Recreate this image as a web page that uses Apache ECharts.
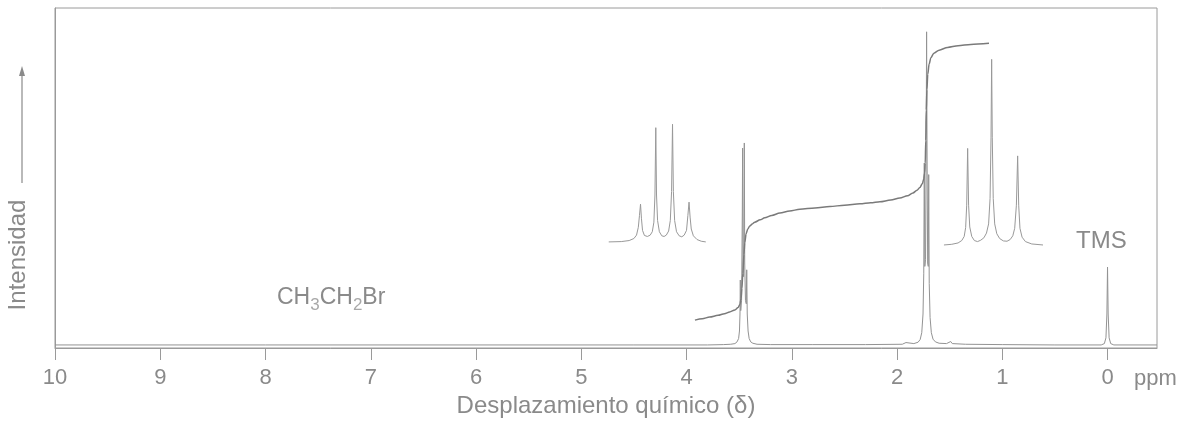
<!DOCTYPE html>
<html>
<head>
<meta charset="utf-8">
<script src="https://cdn.jsdelivr.net/npm/echarts@6/dist/echarts.min.js"></script>
<style>
html,body{margin:0;padding:0;background:#fff;}
#c{width:1187px;height:425px;}
</style>
</head>
<body>
<div id="c"></div>
<script>
// ---- data (ppm, intensity) ----
var tickValues = [10, 9, 8, 7, 6, 5, 4, 3, 2, 1, 0];
var xAxisTitle = 'Desplazamiento químico (δ)';
var yAxisTitle = 'Intensidad';
var unitLabel = 'ppm';
var compoundLabel = ['CH', '3', 'CH', '2', 'Br'];
var tmsLabel = 'TMS';

var spectrum = [
  [10, 0.9], [8, 0.9], [6, 0.9], [4.5, 0.9], [3.8, 0.9], [3.65, 1.0], [3.58, 1.1],
  [3.54, 1.3], [3.52, 1.8], [3.505, 2.8], [3.497, 5], [3.492, 10], [3.489, 20],
  [3.485, 11], [3.477, 14], [3.470, 40], [3.467, 58.8], [3.463, 22], [3.458, 21],
  [3.454, 40], [3.451, 60.3], [3.447, 25], [3.440, 14], [3.432, 13], [3.428, 23],
  [3.423, 10], [3.415, 5], [3.405, 2.8], [3.39, 1.8], [3.37, 1.4], [3.33, 1.1],
  [3.2, 1.0], [2.8, 1.0], [2.3, 1.0], [1.95, 1.1], [1.915, 1.6], [1.90, 1.2],
  [1.84, 1.3], [1.80, 1.7], [1.78, 2.5], [1.765, 4.5], [1.753, 10], [1.746, 22],
  [1.741, 54.4], [1.736, 24], [1.729, 26], [1.723, 60], [1.719, 93], [1.715, 60],
  [1.709, 25], [1.703, 24], [1.699, 51], [1.694, 19], [1.686, 9], [1.674, 4.5],
  [1.658, 2.6], [1.635, 1.8], [1.60, 1.4], [1.53, 1.3], [1.49, 1.9], [1.475, 1.3],
  [1.35, 1.1], [1.0, 1.0], [0.5, 0.9], [0.06, 0.9], [0.03, 1.3], [0.015, 3],
  [0.006, 10], [0.0, 23.8], [-0.006, 10], [-0.015, 3], [-0.03, 1.3], [-0.06, 0.9],
  [-0.47, 0.9]
];

var integral = [
  [3.920, 8.2], [3.85, 8.6], [3.78, 9.1], [3.70, 9.6], [3.64, 10.1], [3.59, 10.6],
  [3.54, 11.2], [3.51, 11.9], [3.493, 12.8], [3.482, 14.5], [3.474, 17.5],
  [3.465, 22], [3.455, 27.5], [3.446, 31], [3.434, 33.6], [3.418, 35.0],
  [3.399, 35.9], [3.375, 36.5], [3.352, 37.0], [3.30, 37.7], [3.257, 38.3],
  [3.19, 39.0], [3.113, 39.7], [3.02, 40.3], [2.923, 40.8], [2.78, 41.2],
  [2.638, 41.6], [2.50, 42.0], [2.352, 42.4], [2.25, 42.7], [2.163, 43.0],
  [2.06, 43.5], [1.973, 44.1], [1.90, 44.8], [1.849, 45.6], [1.810, 46.4],
  [1.783, 47.2], [1.760, 48.3], [1.747, 49.6], [1.738, 51.5], [1.732, 54.4],
  [1.727, 61], [1.722, 70], [1.716, 76], [1.708, 80.5], [1.695, 83.5], [1.678, 85.4],
  [1.650, 86.7], [1.600, 87.6], [1.520, 88.4], [1.420, 88.9], [1.300, 89.3],
  [1.126, 89.6]
];

var insetQuartet = [
  [4.739, 31.2], [4.62, 31.3], [4.545, 31.6], [4.500, 32.2], [4.475, 33.2],
  [4.458, 35.5], [4.447, 39], [4.437, 42.3], [4.428, 38], [4.418, 34.6],
  [4.400, 33.1], [4.372, 32.8], [4.345, 33.2], [4.325, 34.2], [4.310, 37],
  [4.300, 45], [4.292, 64.8], [4.285, 45], [4.275, 37.5], [4.258, 34.2],
  [4.235, 33.0], [4.213, 32.8], [4.192, 33.2], [4.170, 34.4], [4.154, 37.5],
  [4.142, 46], [4.133, 65.8], [4.125, 46], [4.113, 37.5], [4.095, 34.2],
  [4.070, 33.0], [4.045, 32.7], [4.022, 33.2], [4.000, 34.6], [3.987, 39],
  [3.976, 42.9], [3.966, 38.5], [3.955, 35.0], [3.935, 33.0], [3.900, 31.9],
  [3.860, 31.4], [3.817, 31.2]
];

var insetTriplet = [
  [1.554, 30.3], [1.48, 30.5], [1.42, 30.9], [1.385, 31.6], [1.362, 32.8],
  [1.348, 35.4], [1.338, 42], [1.329, 58.7], [1.320, 42], [1.309, 35.6],
  [1.290, 32.8], [1.265, 31.6], [1.235, 31.3], [1.205, 31.7], [1.175, 32.4],
  [1.150, 33.8], [1.130, 36.5], [1.116, 44], [1.107, 62], [1.101, 84.9],
  [1.095, 62], [1.086, 44], [1.072, 36.5], [1.052, 33.6], [1.025, 32.2],
  [0.990, 31.5], [0.955, 31.4], [0.925, 31.9], [0.900, 33.0], [0.882, 35.2],
  [0.866, 42], [0.854, 56.5], [0.844, 42], [0.832, 35.2], [0.812, 32.6],
  [0.780, 31.3], [0.720, 30.6], [0.613, 30.3]
];

// ---- chart ----
var FONT = '"Liberation Sans", Arial, sans-serif';
var TXT = '#8a8a8a';
var chart = echarts.init(document.getElementById('c'), null, {renderer: 'canvas'});

var lineSeries = function (name, data, color, width, smooth) {
  return {
    name: name, type: 'line', data: data, showSymbol: false, symbol: 'none',
    smooth: smooth || false, smoothMonotone: smooth ? 'x' : undefined,
    animation: false, silent: true,
    lineStyle: {color: color, width: width}
  };
};

chart.setOption({
  animation: false,
  backgroundColor: '#fff',
  grid: {left: 55, right: 30, top: 8, bottom: 77, show: true,
         borderColor: '#9a9a9a', borderWidth: 1, backgroundColor: 'transparent'},
  xAxis: {
    type: 'value', min: -0.47, max: 10, inverse: true,
    name: xAxisTitle, nameLocation: 'middle', nameGap: 45,
    nameTextStyle: {fontFamily: FONT, fontSize: 24, color: TXT},
    axisLine: {show: true, onZero: false, lineStyle: {color: '#9a9a9a', width: 1}},
    axisTick: {show: true, inside: false, length: 12, customValues: tickValues,
               lineStyle: {color: '#9a9a9a'}},
    axisLabel: {show: true, customValues: tickValues, margin: 19,
                fontFamily: FONT, fontSize: 22, color: TXT},
    splitLine: {show: false}
  },
  yAxis: {
    type: 'value', min: 0, max: 100,
    axisLine: {show: true, onZero: false, lineStyle: {color: '#9a9a9a'}},
    axisTick: {show: false}, axisLabel: {show: false}, splitLine: {show: false}
  },
  series: [
    lineSeries('spectrum', spectrum, '#939393', 1),
    lineSeries('integral', integral, '#7a7a7a', 1.5, 0.3),
    lineSeries('insetQuartet', insetQuartet, '#999999', 1),
    lineSeries('insetTriplet', insetTriplet, '#999999', 1)
  ],
  graphic: [
    {type: 'text', left: 1134, top: 368,
     style: {text: unitLabel, fontFamily: FONT, fontSize: 22, fill: TXT}},
    {type: 'text', left: 1076, top: 229,
     style: {text: tmsLabel, fontFamily: FONT, fontSize: 24, fill: TXT}},
    {type: 'text', left: 277, top: 286,
     style: {
       rich: {
         n: {fontFamily: FONT, fontSize: 23, lineHeight: 23, fill: '#8a8a8a', verticalAlign: 'top'},
         s: {fontFamily: FONT, fontSize: 17, lineHeight: 17, fill: '#a8a8a8', verticalAlign: 'top', padding: [11, 0, 0, 0]}
       },
       text: '{n|' + compoundLabel[0] + '}{s|' + compoundLabel[1] + '}{n|' + compoundLabel[2] +
             '}{s|' + compoundLabel[3] + '}{n|' + compoundLabel[4] + '}'
     }},
    {type: 'text', x: 18, y: 255, rotation: Math.PI / 2,
     style: {text: yAxisTitle, fontFamily: FONT, fontSize: 24, fill: TXT,
             align: 'center', verticalAlign: 'middle'}},
    {type: 'line', shape: {x1: 22, y1: 183, x2: 22, y2: 74},
     style: {stroke: '#8a8a8a', lineWidth: 1.2}},
    {type: 'polygon', shape: {points: [[19, 76], [25, 76], [22, 66]]},
     style: {fill: '#8a8a8a'}}
  ]
});
</script>
</body>
</html>
